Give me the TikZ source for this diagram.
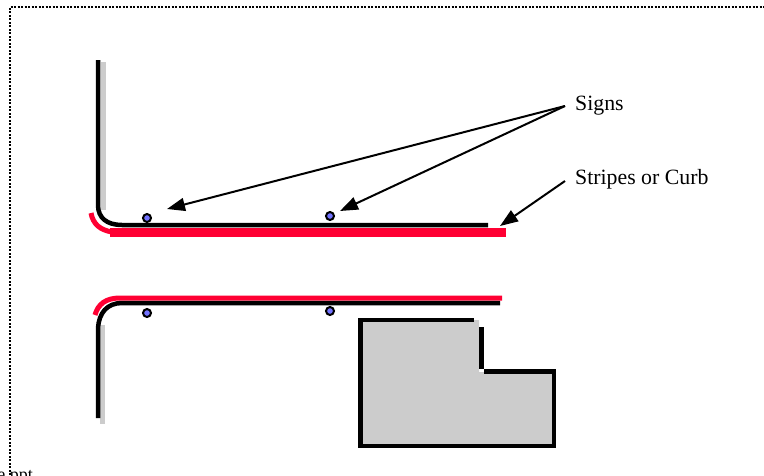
\documentclass[tikz,border=0pt]{standalone}
\usepackage{fontspec}
\setmainfont{Liberation Serif}
\usetikzlibrary{arrows.meta}

\definecolor{stripered}{RGB}{255,0,51}
\tikzset{
  curb/.style={line width=4.5pt,black},
  stripe/.style={line width=5pt,stripered},
  shade/.style={line width=5pt,black!20},
  wall/.style={line width=4.5pt,black},
  sign/.style={circle,draw=black,fill=blue!55!white,line width=2pt,inner sep=0pt,minimum size=8pt},
  pointer/.style={-{Triangle[length=18pt,width=13pt]},line width=2pt},
  label/.style={font=\fontsize{21.8}{24}\selectfont,anchor=west,inner sep=0pt}
}

\begin{document}
\begin{tikzpicture}[x=1pt,y=-1pt]

    \useasboundingbox (0,0) rectangle (764,475);
    \fill[white] (0,0) rectangle (764,475);

    % frame
    \coordinate (FL) at (9.5,475);
    \coordinate (FT) at (9.5,7);
    \coordinate (FR) at (764,7);
    \draw[line width=2pt,dash pattern=on 2pt off 1.5pt] (FL) -- (FT) -- (FR);
    \node[font=\fontsize{18}{20}\selectfont,anchor=base east,inner sep=0pt] (file) at (33,480) {e.ppt};

    % upper road
    \draw[shade] (103,62) -- (103,210);
    \draw[stripe] (91,213) .. controls (93,224) and (100,230) .. (112,232);
    \fill[stripered] (110,228) rectangle (506,237);
    \draw[curb] (98,60) -- (98,205) .. controls (98,218) and (107,225) .. (122,225) -- (488,225);

    % lower road
    \draw[shade] (102.5,325) -- (102.5,424);
    \draw[stripe] (95,315) .. controls (98,304) and (106,298) .. (120,298) -- (502,298);
    \draw[curb] (98,418) -- (98,328) .. controls (99,313) and (107,303) .. (122,303) -- (500,303);

    % signs
    \node[sign] (S1) at (147,218) {};
    \node[sign] (S2) at (330,216) {};
    \node[sign] (S3) at (147,313) {};
    \node[sign] (S4) at (330,311) {};

    % building
    \fill[black!20] (361,320) -- (479,320) -- (479,372) -- (554,372) -- (554,446) -- (361,446) -- cycle;
    \draw[wall] (474,320) -- (360.25,320) -- (360.25,445.75) -- (553.75,445.75) -- (553.75,371.25) -- (484,371.25);
    \draw[wall] (481.5,327) -- (481.5,369);

    % labels
    \node[label] (signs) at (575,105.5) {Signs};
    \node[label] (stripes) at (575,179) {Stripes or Curb};
    \coordinate (signsout) at (565,106);
    \coordinate (stripesout) at (565,181);
    \coordinate (tipA) at (167,209);
    \coordinate (tipB) at (340,211);
    \coordinate (tipC) at (500,226);

    \draw[pointer] (signsout) -- (tipA);
    \draw[pointer] (signsout) -- (tipB);
    \draw[pointer] (stripesout) -- (tipC);

  \end{tikzpicture}
\end{document}
